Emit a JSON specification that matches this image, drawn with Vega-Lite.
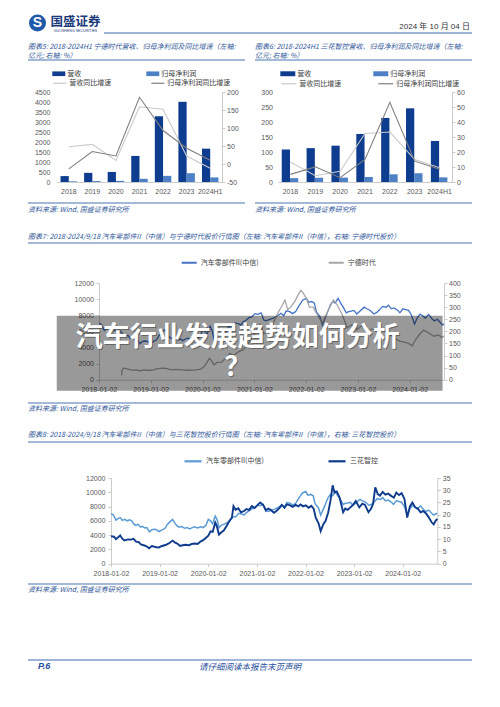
{
"$schema":"https://vega.github.io/schema/vega-lite/v6.json",
"background":"white",
"padding":0,
"data":{"values":[{}]},
"datasets":{
"c5b":[{"year":"2018","item":"营收","value":296},{"year":"2018","item":"归母净利润","value":34},{"year":"2019","item":"营收","value":458},{"year":"2019","item":"归母净利润","value":46},{"year":"2020","item":"营收","value":503},{"year":"2020","item":"归母净利润","value":56},{"year":"2021","item":"营收","value":1304},{"year":"2021","item":"归母净利润","value":159},{"year":"2022","item":"营收","value":3286},{"year":"2022","item":"归母净利润","value":307},{"year":"2023","item":"营收","value":4009},{"year":"2023","item":"归母净利润","value":441},{"year":"2024H1","item":"营收","value":1668},{"year":"2024H1","item":"归母净利润","value":229}],
"c5l":[{"year":"2018","item":"营收同比增速","pct":48.1},{"year":"2019","item":"营收同比增速","pct":54.6},{"year":"2020","item":"营收同比增速","pct":9.9},{"year":"2021","item":"营收同比增速","pct":159.1},{"year":"2022","item":"营收同比增速","pct":152.1},{"year":"2023","item":"营收同比增速","pct":22.0},{"year":"2024H1","item":"营收同比增速","pct":-11.9},{"year":"2018","item":"归母净利润同比增速","pct":-13.7},{"year":"2019","item":"归母净利润同比增速","pct":34.6},{"year":"2020","item":"归母净利润同比增速","pct":22.4},{"year":"2021","item":"归母净利润同比增速","pct":185.3},{"year":"2022","item":"归母净利润同比增速","pct":92.9},{"year":"2023","item":"归母净利润同比增速","pct":43.6},{"year":"2024H1","item":"归母净利润同比增速","pct":10.4}],
"c6b":[{"year":"2018","item":"营收","value":108.4},{"year":"2018","item":"归母净利润","value":12.9},{"year":"2019","item":"营收","value":112.9},{"year":"2019","item":"归母净利润","value":14.2},{"year":"2020","item":"营收","value":121.1},{"year":"2020","item":"归母净利润","value":14.6},{"year":"2021","item":"营收","value":160.2},{"year":"2021","item":"归母净利润","value":16.8},{"year":"2022","item":"营收","value":213.5},{"year":"2022","item":"归母净利润","value":25.7},{"year":"2023","item":"营收","value":245.6},{"year":"2023","item":"归母净利润","value":29.2},{"year":"2024H1","item":"营收","value":136.8},{"year":"2024H1","item":"归母净利润","value":15.5}],
"c6l":[{"year":"2018","item":"营收同比增速","pct":13.3},{"year":"2019","item":"营收同比增速","pct":4.2},{"year":"2020","item":"营收同比增速","pct":7.2},{"year":"2021","item":"营收同比增速","pct":32.3},{"year":"2022","item":"营收同比增速","pct":33.3},{"year":"2023","item":"营收同比增速","pct":15.0},{"year":"2024H1","item":"营收同比增速","pct":9.5},{"year":"2018","item":"归母净利润同比增速","pct":5.1},{"year":"2019","item":"归母净利润同比增速","pct":10.1},{"year":"2020","item":"归母净利润同比增速","pct":2.9},{"year":"2021","item":"归母净利润同比增速","pct":15.1},{"year":"2022","item":"归母净利润同比增速","pct":53.1},{"year":"2023","item":"归母净利润同比增速","pct":13.9},{"year":"2024H1","item":"归母净利润同比增速","pct":8.5}],
"idx":[{"d":"2018-01-02","v":7000},{"d":"2018-01-20","v":6850},{"d":"2018-02-08","v":6100},{"d":"2018-02-26","v":6350},{"d":"2018-03-12","v":6450},{"d":"2018-03-28","v":6050},{"d":"2018-04-16","v":6200},{"d":"2018-05-03","v":6000},{"d":"2018-05-22","v":6150},{"d":"2018-06-08","v":5950},{"d":"2018-06-20","v":5600},{"d":"2018-07-06","v":5350},{"d":"2018-07-25","v":5500},{"d":"2018-08-10","v":5150},{"d":"2018-08-28","v":5200},{"d":"2018-09-12","v":5000},{"d":"2018-09-28","v":5050},{"d":"2018-10-18","v":4450},{"d":"2018-11-05","v":4750},{"d":"2018-11-22","v":4800},{"d":"2018-12-10","v":4750},{"d":"2018-12-28","v":4500},{"d":"2019-01-18","v":4700},{"d":"2019-02-12","v":4950},{"d":"2019-02-28","v":5450},{"d":"2019-03-20","v":5850},{"d":"2019-04-10","v":6200},{"d":"2019-04-25","v":5700},{"d":"2019-05-10","v":5350},{"d":"2019-05-28","v":5100},{"d":"2019-06-18","v":5200},{"d":"2019-07-10","v":4950},{"d":"2019-07-30","v":5050},{"d":"2019-08-15","v":4850},{"d":"2019-09-05","v":5050},{"d":"2019-09-20","v":5150},{"d":"2019-10-15","v":5000},{"d":"2019-11-05","v":5150},{"d":"2019-11-25","v":5050},{"d":"2019-12-15","v":5350},{"d":"2020-01-03","v":6200},{"d":"2020-01-20","v":6000},{"d":"2020-02-03","v":5600},{"d":"2020-02-24","v":6650},{"d":"2020-03-10","v":6100},{"d":"2020-03-23","v":5000},{"d":"2020-04-10","v":5400},{"d":"2020-04-28","v":5500},{"d":"2020-05-20","v":5700},{"d":"2020-06-15","v":6000},{"d":"2020-07-06","v":6600},{"d":"2020-07-25","v":6550},{"d":"2020-08-18","v":7050},{"d":"2020-09-10","v":6950},{"d":"2020-09-28","v":6800},{"d":"2020-10-15","v":7150},{"d":"2020-11-05","v":7400},{"d":"2020-11-25","v":7700},{"d":"2020-12-15","v":7800},{"d":"2021-01-05","v":8200},{"d":"2021-01-26","v":8100},{"d":"2021-02-18","v":8300},{"d":"2021-03-10","v":7400},{"d":"2021-03-25","v":7300},{"d":"2021-04-15","v":7450},{"d":"2021-05-10","v":7600},{"d":"2021-05-28","v":7750},{"d":"2021-06-20","v":8000},{"d":"2021-07-08","v":8250},{"d":"2021-07-28","v":7950},{"d":"2021-08-15","v":8550},{"d":"2021-09-08","v":8450},{"d":"2021-09-28","v":8200},{"d":"2021-10-20","v":8450},{"d":"2021-11-10","v":9100},{"d":"2021-11-25","v":9500},{"d":"2021-12-10","v":9900},{"d":"2022-01-04","v":10100},{"d":"2022-01-20","v":9600},{"d":"2022-02-10","v":9700},{"d":"2022-03-01","v":9500},{"d":"2022-03-15","v":8400},{"d":"2022-04-10","v":7800},{"d":"2022-04-26","v":6800},{"d":"2022-05-15","v":7600},{"d":"2022-06-02","v":8400},{"d":"2022-06-22","v":9300},{"d":"2022-07-08","v":9700},{"d":"2022-07-25","v":9500},{"d":"2022-08-15","v":10100},{"d":"2022-09-02","v":9500},{"d":"2022-09-20","v":9000},{"d":"2022-10-12","v":8300},{"d":"2022-10-28","v":8450},{"d":"2022-11-15","v":8500},{"d":"2022-12-05","v":8600},{"d":"2022-12-25","v":8150},{"d":"2023-01-15","v":8500},{"d":"2023-02-15","v":9000},{"d":"2023-03-05","v":8800},{"d":"2023-03-25","v":8650},{"d":"2023-04-25","v":8150},{"d":"2023-05-15","v":8350},{"d":"2023-06-05","v":8700},{"d":"2023-06-25","v":9100},{"d":"2023-07-20","v":9000},{"d":"2023-08-05","v":9250},{"d":"2023-08-25","v":8800},{"d":"2023-09-15","v":8900},{"d":"2023-10-10","v":8600},{"d":"2023-10-25","v":8300},{"d":"2023-11-15","v":8800},{"d":"2023-12-05","v":8700},{"d":"2023-12-25","v":8600},{"d":"2024-01-15","v":8000},{"d":"2024-02-05","v":6900},{"d":"2024-02-26","v":7700},{"d":"2024-03-15","v":8150},{"d":"2024-04-05","v":7900},{"d":"2024-04-20","v":7650},{"d":"2024-05-15","v":8100},{"d":"2024-06-05","v":7600},{"d":"2024-06-25","v":7300},{"d":"2024-07-15","v":7500},{"d":"2024-08-05","v":7100},{"d":"2024-08-22","v":6800},{"d":"2024-09-05","v":6950},{"d":"2024-09-18","v":7050}],
"catl":[{"d":"2018-06-11","v":18},{"d":"2018-06-14","v":40},{"d":"2018-06-25","v":48},{"d":"2018-07-20","v":45},{"d":"2018-08-20","v":40},{"d":"2018-09-25","v":41},{"d":"2018-10-20","v":37},{"d":"2018-11-20","v":41},{"d":"2018-12-20","v":38},{"d":"2019-01-20","v":41},{"d":"2019-02-20","v":46},{"d":"2019-03-20","v":48},{"d":"2019-04-20","v":47},{"d":"2019-05-25","v":41},{"d":"2019-06-25","v":43},{"d":"2019-07-25","v":42},{"d":"2019-08-25","v":40},{"d":"2019-09-20","v":39},{"d":"2019-10-20","v":40},{"d":"2019-11-20","v":41},{"d":"2019-12-20","v":44},{"d":"2020-01-10","v":52},{"d":"2020-01-23","v":62},{"d":"2020-02-20","v":88},{"d":"2020-03-06","v":78},{"d":"2020-03-23","v":62},{"d":"2020-04-15","v":72},{"d":"2020-05-15","v":73},{"d":"2020-06-12","v":88},{"d":"2020-07-10","v":108},{"d":"2020-08-10","v":102},{"d":"2020-09-14","v":116},{"d":"2020-10-20","v":126},{"d":"2020-11-24","v":152},{"d":"2020-12-20","v":175},{"d":"2021-01-15","v":205},{"d":"2021-02-10","v":230},{"d":"2021-03-10","v":190},{"d":"2021-04-10","v":200},{"d":"2021-05-15","v":235},{"d":"2021-06-15","v":275},{"d":"2021-07-15","v":305},{"d":"2021-08-05","v":330},{"d":"2021-08-25","v":290},{"d":"2021-09-15","v":300},{"d":"2021-10-15","v":325},{"d":"2021-11-05","v":350},{"d":"2021-11-25","v":370},{"d":"2021-12-10","v":360},{"d":"2022-01-05","v":335},{"d":"2022-01-25","v":300},{"d":"2022-02-20","v":300},{"d":"2022-03-15","v":275},{"d":"2022-04-15","v":245},{"d":"2022-04-27","v":235},{"d":"2022-05-20","v":265},{"d":"2022-06-20","v":303},{"d":"2022-07-14","v":330},{"d":"2022-08-08","v":310},{"d":"2022-09-13","v":270},{"d":"2022-10-18","v":215},{"d":"2022-11-22","v":228},{"d":"2022-12-27","v":207},{"d":"2023-02-01","v":225},{"d":"2023-03-08","v":200},{"d":"2023-04-12","v":210},{"d":"2023-05-18","v":200},{"d":"2023-06-20","v":205},{"d":"2023-07-20","v":200},{"d":"2023-08-20","v":185},{"d":"2023-09-20","v":170},{"d":"2023-10-25","v":160},{"d":"2023-11-25","v":155},{"d":"2023-12-25","v":150},{"d":"2024-01-20","v":140},{"d":"2024-02-12","v":165},{"d":"2024-03-15","v":190},{"d":"2024-04-10","v":205},{"d":"2024-05-15","v":193},{"d":"2024-06-20","v":180},{"d":"2024-07-20","v":185},{"d":"2024-08-20","v":175},{"d":"2024-09-18","v":190}],
"sh":[{"d":"2018-01-02","v":11.2},{"d":"2018-01-25","v":11.0},{"d":"2018-02-08","v":10.0},{"d":"2018-03-12","v":11.5},{"d":"2018-03-28","v":10.2},{"d":"2018-04-12","v":9.5},{"d":"2018-05-10","v":9.9},{"d":"2018-06-01","v":9.8},{"d":"2018-06-20","v":10.1},{"d":"2018-07-10","v":9.0},{"d":"2018-07-30","v":8.8},{"d":"2018-08-15","v":7.8},{"d":"2018-09-10","v":7.4},{"d":"2018-09-28","v":7.0},{"d":"2018-10-15","v":6.3},{"d":"2018-11-05","v":7.2},{"d":"2018-11-25","v":6.9},{"d":"2018-12-10","v":6.7},{"d":"2018-12-28","v":6.6},{"d":"2019-01-15","v":7.1},{"d":"2019-02-15","v":7.6},{"d":"2019-03-05","v":8.1},{"d":"2019-03-20","v":8.5},{"d":"2019-04-10","v":9.4},{"d":"2019-04-28","v":8.6},{"d":"2019-05-15","v":8.2},{"d":"2019-06-05","v":7.2},{"d":"2019-06-25","v":7.5},{"d":"2019-07-15","v":7.7},{"d":"2019-08-10","v":7.5},{"d":"2019-08-30","v":8.0},{"d":"2019-09-25","v":8.2},{"d":"2019-10-15","v":8.0},{"d":"2019-11-05","v":9.0},{"d":"2019-11-25","v":9.6},{"d":"2019-12-15","v":10.5},{"d":"2020-01-03","v":11.4},{"d":"2020-01-20","v":13.2},{"d":"2020-02-05","v":13.0},{"d":"2020-02-24","v":16.8},{"d":"2020-03-06","v":15.5},{"d":"2020-03-23","v":11.8},{"d":"2020-04-10","v":12.8},{"d":"2020-04-28","v":13.5},{"d":"2020-05-20","v":15.5},{"d":"2020-06-10","v":17.5},{"d":"2020-06-28","v":18.8},{"d":"2020-07-10","v":23.5},{"d":"2020-07-25","v":22.0},{"d":"2020-08-15","v":22.6},{"d":"2020-09-05","v":21.0},{"d":"2020-09-28","v":21.5},{"d":"2020-10-15","v":22.3},{"d":"2020-11-05","v":22.0},{"d":"2020-11-25","v":23.5},{"d":"2020-12-15","v":22.7},{"d":"2021-01-05","v":23.8},{"d":"2021-01-26","v":25.0},{"d":"2021-02-18","v":24.0},{"d":"2021-03-10","v":21.8},{"d":"2021-03-28","v":22.5},{"d":"2021-04-15","v":22.0},{"d":"2021-05-10","v":20.8},{"d":"2021-05-28","v":21.5},{"d":"2021-06-20","v":22.7},{"d":"2021-07-08","v":24.0},{"d":"2021-07-28","v":22.8},{"d":"2021-08-15","v":24.2},{"d":"2021-09-08","v":23.8},{"d":"2021-09-28","v":23.2},{"d":"2021-10-20","v":24.0},{"d":"2021-11-10","v":23.4},{"d":"2021-11-25","v":24.2},{"d":"2021-12-15","v":23.4},{"d":"2022-01-04","v":23.8},{"d":"2022-01-25","v":22.8},{"d":"2022-02-15","v":23.6},{"d":"2022-03-05","v":22.4},{"d":"2022-03-20","v":18.8},{"d":"2022-04-10","v":16.5},{"d":"2022-04-26","v":13.3},{"d":"2022-05-15","v":16.0},{"d":"2022-06-02","v":17.5},{"d":"2022-06-22","v":21.0},{"d":"2022-07-08","v":25.6},{"d":"2022-07-25","v":32.0},{"d":"2022-08-08","v":29.0},{"d":"2022-08-25","v":29.5},{"d":"2022-09-15","v":27.0},{"d":"2022-10-12","v":21.0},{"d":"2022-10-28","v":22.5},{"d":"2022-11-15","v":22.0},{"d":"2022-12-05","v":23.0},{"d":"2022-12-25","v":24.0},{"d":"2023-01-15","v":25.6},{"d":"2023-02-10","v":23.0},{"d":"2023-03-05","v":24.5},{"d":"2023-03-25","v":24.0},{"d":"2023-04-20","v":21.0},{"d":"2023-05-10","v":22.5},{"d":"2023-05-25","v":24.5},{"d":"2023-06-10","v":31.2},{"d":"2023-06-28","v":28.5},{"d":"2023-07-15","v":27.8},{"d":"2023-08-05","v":29.3},{"d":"2023-08-25","v":28.2},{"d":"2023-09-15","v":28.6},{"d":"2023-10-10","v":27.6},{"d":"2023-10-28","v":27.0},{"d":"2023-11-15","v":29.0},{"d":"2023-12-05","v":28.0},{"d":"2023-12-25","v":28.8},{"d":"2024-01-15","v":26.5},{"d":"2024-02-05","v":18.8},{"d":"2024-02-26","v":23.5},{"d":"2024-03-15","v":25.0},{"d":"2024-04-05","v":23.0},{"d":"2024-04-25","v":22.5},{"d":"2024-05-15","v":21.0},{"d":"2024-06-05","v":21.5},{"d":"2024-06-25","v":20.5},{"d":"2024-07-15","v":19.0},{"d":"2024-08-05","v":17.0},{"d":"2024-08-22","v":16.0},{"d":"2024-09-05","v":17.5},{"d":"2024-09-18","v":18.3}]
},
"config":{
"view":{"stroke":null},
"font":"Liberation Sans",
"axis":{"labelFont":"Liberation Sans","labelFontSize":7,"labelColor":"#595959","domainColor":"#bfbfbf","tickColor":"#bfbfbf","grid":false,"tickSize":3,"domainWidth":0.8,"tickWidth":0.8},
"legend":{"labelFont":"Noto Sans CJK SC","labelFontSize":7,"labelColor":"#404040","padding":0,"labelOffset":2}
},
"spacing":0,
"resolve":{"scale":{"color":"independent","stroke":"independent"}},
"vconcat":[
{"width":500,"height":13,"mark":{"type":"text","text":"","fontSize":1},"encoding":{}},

{"hconcat":[
 {"width":28,"height":20,"mark":{"type":"text","text":"","fontSize":1},"encoding":{}},
 {"width":19,"height":20,"layer":[
  {"mark":{"type":"point","shape":"circle","filled":true,"size":290,"color":"#1f5aa8","opacity":1},"encoding":{}},
  {"mark":{"type":"text","text":"S","font":"Liberation Sans","fontWeight":"bold","fontSize":14,"color":"white","baseline":"middle"},"encoding":{}}
 ]},
 {"width":57,"height":20,"layer":[
  {"mark":{"type":"text","text":"国盛证券","font":"Noto Sans CJK SC","fontWeight":"bold","fontSize":12.5,"color":"#1b3a7a","baseline":"middle","dy":-1},"encoding":{}},
  {"mark":{"type":"text","text":"GUOSHENG SECURITIES","font":"Liberation Sans","fontSize":3.6,"color":"#1b3a7a","baseline":"middle","dy":7.8},"encoding":{}}
 ]},
 {"width":368,"height":20,"layer":[
  {"mark":{"type":"text","text":"2024 年 10 月 04 日","font":"Liberation Sans, Noto Sans CJK SC","fontSize":8,"color":"#333333","align":"right","baseline":"middle","dy":4,"dx":-2},"encoding":{"x":{"datum":1,"type":"quantitative","scale":{"domain":[0,1]},"axis":null}}},
  {"mark":{"type":"rule","color":"#3e6db4","strokeWidth":1.2},"encoding":{"y":{"datum":0,"type":"quantitative","scale":{"domain":[0,1]},"axis":null}}}
 ]}
],"spacing":0,"bounds":"flush"},

{"hconcat":[
 {"width":28,"height":26,"mark":{"type":"text","text":"","fontSize":1},"encoding":{}},
 {"width":217,"height":26,"layer":[
  {"mark":{"type":"text","text":"图表5: 2018-2024H1 宁德时代营收、归母净利润及同比增速（左轴:","align":"left","baseline":"bottom","dy":-9.8,"font":"Noto Sans CJK SC","fontSize":7,"fontStyle":"italic","color":"#2e5597"},"encoding":{"x":{"datum":0,"type":"quantitative","scale":{"domain":[0,1]},"axis":null},"y":{"datum":0,"type":"quantitative","scale":{"domain":[0,1]},"axis":null}}},
  {"mark":{"type":"text","text":"亿元; 右轴: %）","align":"left","baseline":"bottom","dy":-1.5,"font":"Noto Sans CJK SC","fontSize":7,"fontStyle":"italic","color":"#2e5597"},"encoding":{"x":{"datum":0,"type":"quantitative","scale":{"domain":[0,1]},"axis":null},"y":{"datum":0,"type":"quantitative","scale":{"domain":[0,1]},"axis":null}}},
  {"mark":{"type":"rule","color":"#4a72b0","strokeWidth":1.2},"encoding":{"y":{"datum":0,"type":"quantitative","scale":{"domain":[0,1]},"axis":null}}}
 ]},
 {"width":10,"height":26,"mark":{"type":"text","text":"","fontSize":1},"encoding":{}},
 {"width":217,"height":26,"layer":[
  {"mark":{"type":"text","text":"图表6: 2018-2024H1 三花智控营收、归母净利润及同比增速（左轴:","align":"left","baseline":"bottom","dy":-9.8,"font":"Noto Sans CJK SC","fontSize":7,"fontStyle":"italic","color":"#2e5597"},"encoding":{"x":{"datum":0,"type":"quantitative","scale":{"domain":[0,1]},"axis":null},"y":{"datum":0,"type":"quantitative","scale":{"domain":[0,1]},"axis":null}}},
  {"mark":{"type":"text","text":"亿元; 右轴: %）","align":"left","baseline":"bottom","dy":-1.5,"font":"Noto Sans CJK SC","fontSize":7,"fontStyle":"italic","color":"#2e5597"},"encoding":{"x":{"datum":0,"type":"quantitative","scale":{"domain":[0,1]},"axis":null},"y":{"datum":0,"type":"quantitative","scale":{"domain":[0,1]},"axis":null}}},
  {"mark":{"type":"rule","color":"#4a72b0","strokeWidth":1.2},"encoding":{"y":{"datum":0,"type":"quantitative","scale":{"domain":[0,1]},"axis":null}}}
 ]}
],"spacing":0,"bounds":"flush"},

{"width":500,"height":5,"mark":{"type":"text","text":"","fontSize":1},"encoding":{}},

{"hconcat":[
 {"width":56.7,"height":110,"mark":{"type":"text","text":"","fontSize":1},"encoding":{}},
 {"width":165,"height":90,"layer":[
  {"data":{"name":"c5b"},"mark":{"type":"bar"},"encoding":{
   "x":{"field":"year","type":"nominal","sort":null,"scale":{"paddingInner":0.3,"paddingOuter":0.15},"axis":{"title":null,"labelAngle":0,"ticks":false,"labelPadding":5}},
   "xOffset":{"field":"item","type":"nominal","sort":["营收","归母净利润"]},
   "y":{"field":"value","type":"quantitative","scale":{"domain":[0,4500],"nice":false},"axis":{"title":null,"orient":"left","values":[0,500,1000,1500,2000,2500,3000,3500,4000,4500],"format":"d","domain":false,"ticks":false,"labelPadding":7}},
   "color":{"field":"item","type":"nominal","scale":{"domain":["营收","归母净利润"],"range":["#0e3d8f","#4e80c6"]},"legend":{"title":null,"orient":"none","legendX":-4.7,"legendY":-25,"direction":"horizontal","symbolType":"M-1,-0.36H1V0.36H-1Z","symbolSize":169,"symbolStrokeWidth":0,"columnPadding":65}}
  }},
  {"data":{"name":"c5l"},"mark":{"type":"line","strokeWidth":1.1},"encoding":{
   "x":{"field":"year","type":"nominal","sort":null},
   "y":{"field":"pct","type":"quantitative","scale":{"domain":[-50,200],"nice":false},"axis":{"title":null,"orient":"right","values":[-50,0,50,100,150,200],"labelExpr":"datum.value","labelPadding":1.5}},
   "stroke":{"field":"item","type":"nominal","scale":{"domain":["营收同比增速","归母净利润同比增速"],"range":["#c9c9c9","#7f7f7f"]},"legend":{"title":null,"orient":"none","legendX":-4.7,"legendY":-16.5,"direction":"horizontal","symbolType":"stroke","symbolSize":169,"symbolStrokeWidth":1.2,"columnPadding":37}}
  }}
 ],"resolve":{"scale":{"y":"independent"}}},
 {"width":56,"height":110,"mark":{"type":"text","text":"","fontSize":1},"encoding":{}},
 {"width":174,"height":90,"layer":[
  {"data":{"name":"c6b"},"mark":{"type":"bar"},"encoding":{
   "x":{"field":"year","type":"nominal","sort":null,"scale":{"paddingInner":0.3,"paddingOuter":0.15},"axis":{"title":null,"labelAngle":0,"ticks":false,"labelPadding":5}},
   "xOffset":{"field":"item","type":"nominal","sort":["营收","归母净利润"]},
   "y":{"field":"value","type":"quantitative","scale":{"domain":[0,300],"nice":false},"axis":{"title":null,"orient":"left","values":[0,50,100,150,200,250,300],"format":"d","domain":false,"ticks":false,"labelPadding":5.5}},
   "color":{"field":"item","type":"nominal","scale":{"domain":["营收","归母净利润"],"range":["#0e3d8f","#4e80c6"]},"legend":{"title":null,"orient":"none","legendX":2.3,"legendY":-26,"direction":"horizontal","symbolType":"M-1,-0.33H1V0.33H-1Z","symbolSize":225,"symbolStrokeWidth":0,"columnPadding":62}}
  }},
  {"data":{"name":"c6l"},"mark":{"type":"line","strokeWidth":1.1},"encoding":{
   "x":{"field":"year","type":"nominal","sort":null},
   "y":{"field":"pct","type":"quantitative","scale":{"domain":[0,60],"nice":false},"axis":{"title":null,"orient":"right","values":[0,10,20,30,40,50,60],"labelPadding":1.5}},
   "stroke":{"field":"item","type":"nominal","scale":{"domain":["营收同比增速","归母净利润同比增速"],"range":["#c9c9c9","#7f7f7f"]},"legend":{"title":null,"orient":"none","legendX":2.3,"legendY":-17,"direction":"horizontal","symbolType":"stroke","symbolSize":225,"symbolStrokeWidth":1.2,"columnPadding":34}}
  }}
 ],"resolve":{"scale":{"y":"independent"}}}
],"spacing":0,"bounds":"flush","resolve":{"scale":{"color":"independent","stroke":"independent"}}},

{"hconcat":[
 {"width":28,"height":27,"mark":{"type":"text","text":"","fontSize":1},"encoding":{}},
 {"width":217,"height":27,"layer":[
  {"mark":{"type":"rule","color":"#4a72b0","strokeWidth":1.2},"encoding":{"y":{"datum":1,"type":"quantitative","scale":{"domain":[0,1]},"axis":null}}},
  {"mark":{"type":"text","text":"资料来源: Wind, 国盛证券研究所","align":"left","baseline":"top","dy":2.5,"font":"Noto Sans CJK SC","fontSize":7,"fontStyle":"italic","color":"#2e5597"},"encoding":{"x":{"datum":0,"type":"quantitative","scale":{"domain":[0,1]},"axis":null},"y":{"datum":1,"type":"quantitative","scale":{"domain":[0,1]},"axis":null}}}
 ]},
 {"width":10,"height":27,"mark":{"type":"text","text":"","fontSize":1},"encoding":{}},
 {"width":217,"height":27,"layer":[
  {"mark":{"type":"rule","color":"#4a72b0","strokeWidth":1.2},"encoding":{"y":{"datum":1,"type":"quantitative","scale":{"domain":[0,1]},"axis":null}}},
  {"mark":{"type":"text","text":"资料来源: Wind, 国盛证券研究所","align":"left","baseline":"top","dy":2.5,"font":"Noto Sans CJK SC","fontSize":7,"fontStyle":"italic","color":"#2e5597"},"encoding":{"x":{"datum":0,"type":"quantitative","scale":{"domain":[0,1]},"axis":null},"y":{"datum":1,"type":"quantitative","scale":{"domain":[0,1]},"axis":null}}}
 ]}
],"spacing":0,"bounds":"flush"},

{"hconcat":[
 {"width":28,"height":13,"mark":{"type":"text","text":"","fontSize":1},"encoding":{}},
 {"width":444,"height":13,"layer":[
  {"mark":{"type":"text","text":"图表7: 2018-2024/9/18 汽车零部件II（中信）与宁德时代股价行情图（左轴: 汽车零部件II（中信），右轴: 宁德时代股价）","align":"left","baseline":"bottom","dy":-3.5,"font":"Noto Sans CJK SC","fontSize":7,"fontStyle":"italic","color":"#2e5597"},"encoding":{"x":{"datum":0,"type":"quantitative","scale":{"domain":[0,1]},"axis":null},"y":{"datum":0,"type":"quantitative","scale":{"domain":[0,1]},"axis":null}}},
  {"mark":{"type":"rule","color":"#4a72b0","strokeWidth":1.2},"encoding":{"y":{"datum":0,"type":"quantitative","scale":{"domain":[0,1]},"axis":null}}}
 ]}
],"spacing":0,"bounds":"flush"},

{"width":500,"height":10,"mark":{"type":"text","text":"","fontSize":1},"encoding":{}},

{"hconcat":[
 {"width":98.3,"height":119,"mark":{"type":"text","text":"","fontSize":1},"encoding":{}},
 {"width":345,"height":96.7,"layer":[
  {"data":{"name":"idx"},"mark":{"type":"line","strokeWidth":1.3,"clip":true},"encoding":{
   "x":{"field":"d","type":"temporal","scale":{"type":"utc","nice":false,"domain":[{"year":2018,"month":1,"date":2,"utc":true},{"year":2024,"month":8,"date":31,"utc":true}]},"axis":{"title":null,"format":"%Y-%m-%d","labelFlush":false,"labelOverlap":false,"labelPadding":2.5,"values":[{"year":2018,"month":1,"date":2,"utc":true},{"year":2019,"month":1,"date":2,"utc":true},{"year":2020,"month":1,"date":2,"utc":true},{"year":2021,"month":1,"date":2,"utc":true},{"year":2022,"month":1,"date":2,"utc":true},{"year":2023,"month":1,"date":2,"utc":true},{"year":2024,"month":1,"date":2,"utc":true}]}},
   "y":{"field":"v","type":"quantitative","scale":{"domain":[0,12000],"nice":false},"axis":{"title":null,"orient":"left","values":[0,2000,4000,6000,8000,10000,12000],"format":"d","labelPadding":2.5}},
   "color":{"datum":"汽车零部件II(中信)","scale":{"domain":["汽车零部件II(中信)","宁德时代"],"range":["#4472c4","#a6a6a6"]},"legend":{"title":null,"orient":"none","legendX":81.7,"legendY":-29,"direction":"horizontal","symbolType":"stroke","symbolSize":225,"symbolStrokeWidth":2,"columnPadding":66,"labelOffset":3}}
  }},
  {"data":{"name":"catl"},"mark":{"type":"line","strokeWidth":1.3,"clip":true},"encoding":{
   "x":{"field":"d","type":"temporal"},
   "y":{"field":"v","type":"quantitative","scale":{"domain":[0,400],"nice":false},"axis":{"title":null,"orient":"right","values":[0,50,100,150,200,250,300,350,400],"labelPadding":1.5}},
   "color":{"datum":"宁德时代"}
  }},
  {"mark":{"type":"rect","color":"#000000","opacity":0.4},"encoding":{
   "x":{"datum":{"year":2017,"month":3,"date":10,"utc":true},"type":"temporal"},
   "x2":{"datum":{"year":2024,"month":8,"date":21,"utc":true}},
   "y":{"datum":7940,"type":"quantitative","scale":{"domain":[0,12000],"nice":false},"axis":null},
   "y2":{"datum":-1365}
  }},
  {"mark":{"type":"text","text":"汽车行业发展趋势如何分析","font":"Noto Sans CJK SC","fontWeight":"bold","fontSize":27,"color":"#333333","opacity":0.5,"dx":1,"dy":1,"align":"center","baseline":"middle"},"encoding":{
   "x":{"datum":{"year":2020,"month":9,"date":6,"utc":true},"type":"temporal"},
   "y":{"datum":5212,"type":"quantitative","scale":{"domain":[0,12000],"nice":false},"axis":null}
  }},
  {"mark":{"type":"text","text":"？","font":"Noto Sans CJK SC","fontWeight":"bold","fontSize":27,"color":"#333333","opacity":0.5,"dx":1,"dy":1,"align":"center","baseline":"middle"},"encoding":{
   "x":{"datum":{"year":2020,"month":9,"date":6,"utc":true},"type":"temporal"},
   "y":{"datum":1489,"type":"quantitative","scale":{"domain":[0,12000],"nice":false},"axis":null}
  }},
  {"mark":{"type":"text","text":"汽车行业发展趋势如何分析","font":"Noto Sans CJK SC","fontWeight":"bold","fontSize":27,"color":"#ffffff","align":"center","baseline":"middle"},"encoding":{
   "x":{"datum":{"year":2020,"month":9,"date":6,"utc":true},"type":"temporal"},
   "y":{"datum":5212,"type":"quantitative","scale":{"domain":[0,12000],"nice":false},"axis":null}
  }},
  {"mark":{"type":"text","text":"？","font":"Noto Sans CJK SC","fontWeight":"bold","fontSize":27,"color":"#ffffff","align":"center","baseline":"middle"},"encoding":{
   "x":{"datum":{"year":2020,"month":9,"date":6,"utc":true},"type":"temporal"},
   "y":{"datum":1489,"type":"quantitative","scale":{"domain":[0,12000],"nice":false},"axis":null}
  }}
 ],"resolve":{"scale":{"y":"independent"}}}
],"spacing":0,"bounds":"flush","resolve":{"scale":{"color":"independent"}}},

{"hconcat":[
 {"width":28,"height":24,"mark":{"type":"text","text":"","fontSize":1},"encoding":{}},
 {"width":444,"height":24,"layer":[
  {"mark":{"type":"rule","color":"#4a72b0","strokeWidth":1.2},"encoding":{"y":{"datum":1,"type":"quantitative","scale":{"domain":[0,1]},"axis":null}}},
  {"mark":{"type":"text","text":"资料来源: Wind, 国盛证券研究所","align":"left","baseline":"top","dy":1.5,"font":"Noto Sans CJK SC","fontSize":7,"fontStyle":"italic","color":"#2e5597"},"encoding":{"x":{"datum":0,"type":"quantitative","scale":{"domain":[0,1]},"axis":null},"y":{"datum":1,"type":"quantitative","scale":{"domain":[0,1]},"axis":null}}}
 ]}
],"spacing":0,"bounds":"flush"},

{"hconcat":[
 {"width":28,"height":15,"mark":{"type":"text","text":"","fontSize":1},"encoding":{}},
 {"width":444,"height":15,"layer":[
  {"mark":{"type":"text","text":"图表8: 2018-2024/9/18 汽车零部件II（中信）与三花智控股价行情图（左轴: 汽车零部件II（中信），右轴: 三花智控股价）","align":"left","baseline":"bottom","dy":-4.5,"font":"Noto Sans CJK SC","fontSize":7,"fontStyle":"italic","color":"#2e5597"},"encoding":{"x":{"datum":0,"type":"quantitative","scale":{"domain":[0,1]},"axis":null},"y":{"datum":0,"type":"quantitative","scale":{"domain":[0,1]},"axis":null}}},
  {"mark":{"type":"rule","color":"#4a72b0","strokeWidth":1.2},"encoding":{"y":{"datum":0,"type":"quantitative","scale":{"domain":[0,1]},"axis":null}}}
 ]}
],"spacing":0,"bounds":"flush"},

{"width":500,"height":8,"mark":{"type":"text","text":"","fontSize":1},"encoding":{}},

{"hconcat":[
 {"width":111,"height":105,"mark":{"type":"text","text":"","fontSize":1},"encoding":{}},
 {"width":326.3,"height":85.6,"layer":[
  {"data":{"name":"idx"},"mark":{"type":"line","strokeWidth":1.5},"encoding":{
   "x":{"field":"d","type":"temporal","scale":{"type":"utc","nice":false,"domain":[{"year":2018,"month":1,"date":2,"utc":true},{"year":2024,"month":9,"date":18,"utc":true}]},"axis":{"title":null,"format":"%Y-%m-%d","labelFlush":false,"labelOverlap":false,"labelPadding":2.5,"values":[{"year":2018,"month":1,"date":2,"utc":true},{"year":2019,"month":1,"date":2,"utc":true},{"year":2020,"month":1,"date":2,"utc":true},{"year":2021,"month":1,"date":2,"utc":true},{"year":2022,"month":1,"date":2,"utc":true},{"year":2023,"month":1,"date":2,"utc":true},{"year":2024,"month":1,"date":2,"utc":true}]}},
   "y":{"field":"v","type":"quantitative","scale":{"domain":[0,12000],"nice":false},"axis":{"title":null,"orient":"left","values":[0,2000,4000,6000,8000,10000,12000],"format":"d","labelPadding":3}},
   "color":{"datum":"汽车零部件II(中信)","scale":{"domain":["汽车零部件II(中信)","三花智控"],"range":["#5b9bd5","#0f3b8c"]},"legend":{"title":null,"orient":"none","legendX":72,"legendY":-27,"direction":"horizontal","symbolType":"stroke","symbolSize":289,"symbolStrokeWidth":2.2,"columnPadding":60,"labelOffset":3}}
  }},
  {"data":{"name":"sh"},"mark":{"type":"line","strokeWidth":1.9},"encoding":{
   "x":{"field":"d","type":"temporal"},
   "y":{"field":"v","type":"quantitative","scale":{"domain":[0,35],"nice":false},"axis":{"title":null,"orient":"right","values":[0,5,10,15,20,25,30,35],"labelPadding":2}},
   "color":{"datum":"三花智控"}
  }}
 ],"resolve":{"scale":{"y":"independent"}}}
],"spacing":0,"bounds":"flush","resolve":{"scale":{"color":"independent"}}},

{"hconcat":[
 {"width":28,"height":75,"mark":{"type":"text","text":"","fontSize":1},"encoding":{}},
 {"width":444,"height":75,"layer":[
  {"mark":{"type":"rule","color":"#4a72b0","strokeWidth":1.2},"encoding":{"y":{"datum":1,"type":"quantitative","scale":{"domain":[0,1]},"axis":null}}},
  {"mark":{"type":"text","text":"资料来源: Wind, 国盛证券研究所","align":"left","baseline":"top","dy":1.5,"font":"Noto Sans CJK SC","fontSize":7,"fontStyle":"italic","color":"#2e5597"},"encoding":{"x":{"datum":0,"type":"quantitative","scale":{"domain":[0,1]},"axis":null},"y":{"datum":1,"type":"quantitative","scale":{"domain":[0,1]},"axis":null}}}
 ]}
],"spacing":0,"bounds":"flush"},

{"hconcat":[
 {"width":28,"height":20,"mark":{"type":"text","text":"","fontSize":1},"encoding":{}},
 {"width":444,"height":20,"layer":[
  {"mark":{"type":"rule","color":"#3e6db4","strokeWidth":1.2},"encoding":{"y":{"datum":1,"type":"quantitative","scale":{"domain":[0,1]},"axis":null}}},
  {"mark":{"type":"text","text":"P.6","align":"left","baseline":"top","dx":10,"dy":2,"font":"Liberation Sans","fontSize":9,"fontWeight":"bold","fontStyle":"italic","color":"#1f4e9c"},"encoding":{"x":{"datum":0,"type":"quantitative","scale":{"domain":[0,1]},"axis":null},"y":{"datum":1,"type":"quantitative","scale":{"domain":[0,1]},"axis":null}}},
  {"mark":{"type":"text","text":"请仔细阅读本报告末页声明","baseline":"top","dy":2.5,"font":"Noto Sans CJK SC","fontSize":8.5,"fontStyle":"italic","color":"#1f4e9c"},"encoding":{"y":{"datum":1,"type":"quantitative","scale":{"domain":[0,1]},"axis":null}}}
 ]}
],"spacing":0,"bounds":"flush"}
]
}
